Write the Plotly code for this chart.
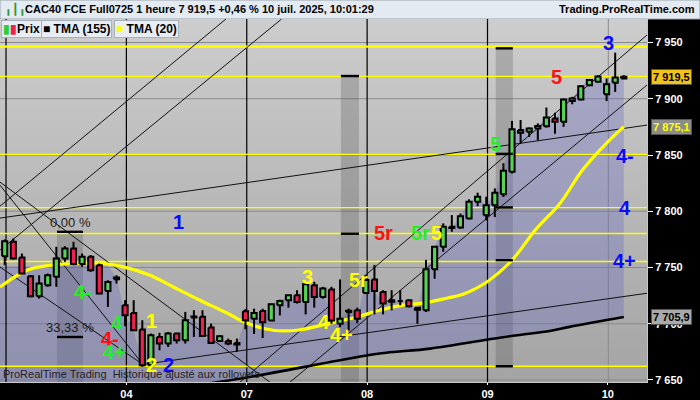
import plotly.graph_objects as go

#%% data (hourly bars, CAC40 future)
DAYS = ['03', '04', '07', '08', '09', '10']
BARS_PER_DAY = [14, 14, 14, 14, 14, 3]

OPEN = [7760.1, 7772.8, 7758.9, 7742.2, 7724.5, 7734.3, 7741.7, 7758.0, 7766.9, 7753.0,
        7759.5, 7752.0, 7729.2, 7739.6, 7716.5, 7709.6, 7694.8, 7663.1, 7688.3, 7682.4,
        7691.3, 7685.3, 7705.5, 7706.1, 7696.6, 7684.7, 7684.7, 7682.9, 7711.0, 7704.4,
        7711.3, 7702.9, 7716.4, 7720.8, 7725.3, 7719.3, 7734.3, 7723.8, 7730.4, 7699.9,
        7710.4, 7711.9, 7727.4, 7739.4, 7728.3, 7720.8, 7720.2, 7720.8, 7714.3, 7711.9,
        7748.4, 7768.5, 7786.2, 7785.5, 7793.5, 7808.4, 7796.4, 7805.3, 7815.2, 7835.0,
        7872.2, 7870.6, 7873.6, 7875.6, 7882.4, 7879.5, 7898.1, 7899.3, 7912.1, 7915.1,
        7904.0, 7914.2, 7918.0]
HIGH = [7774.9, 7775.8, 7762.4, 7743.1, 7743.1, 7744.6, 7768.4, 7769.0, 7772.8, 7762.4,
        7761.0, 7753.5, 7738.7, 7743.1, 7720.9, 7720.9, 7703.1, 7691.3, 7691.9, 7692.7,
        7691.9, 7710.5, 7712.0, 7712.0, 7700.1, 7689.8, 7686.8, 7686.8, 7713.0, 7713.4,
        7713.4, 7717.9, 7721.4, 7725.5, 7729.8, 7737.3, 7737.3, 7732.8, 7732.8, 7739.4,
        7713.4, 7714.3, 7743.3, 7752.3, 7729.8, 7729.8, 7729.8, 7721.5, 7714.5, 7756.8,
        7769.0, 7789.2, 7796.6, 7798.0, 7810.6, 7816.5, 7812.9, 7820.3, 7842.6, 7880.3,
        7881.1, 7874.5, 7878.1, 7892.2, 7887.5, 7900.2, 7901.7, 7912.1, 7917.2, 7920.8,
        7918.0, 7941.0, 7921.0]
LOW = [7752.0, 7757.1, 7744.0, 7723.5, 7722.4, 7732.8, 7732.8, 7755.0, 7752.0, 7750.6,
       7746.1, 7726.2, 7715.0, 7735.7, 7697.8, 7693.5, 7661.6, 7661.6, 7676.4, 7679.4,
       7682.4, 7682.4, 7688.3, 7688.3, 7682.4, 7683.8, 7680.9, 7675.0, 7695.0, 7690.9,
       7687.3, 7702.5, 7707.4, 7714.3, 7717.9, 7708.3, 7714.3, 7722.3, 7699.9, 7696.9,
       7693.9, 7700.5, 7726.8, 7708.3, 7708.3, 7711.9, 7716.4, 7714.5, 7699.9, 7710.4,
       7740.0, 7764.0, 7781.8, 7784.5, 7792.8, 7804.5, 7791.9, 7794.8, 7812.7, 7833.5,
       7860.2, 7866.1, 7863.1, 7874.4, 7869.0, 7875.0, 7895.1, 7898.7, 7911.2, 7914.6,
       7898.0, 7906.0, 7917.5]
CLOSE = [7773.4, 7758.0, 7744.6, 7724.5, 7735.7, 7743.1, 7758.0, 7766.9, 7753.0, 7759.5,
         7747.6, 7726.8, 7737.2, 7741.0, 7707.6, 7694.2, 7663.1, 7689.8, 7682.4, 7691.3,
         7685.3, 7703.1, 7706.5, 7689.2, 7682.9, 7688.9, 7682.4, 7681.5, 7703.0, 7709.5,
         7701.4, 7717.3, 7720.2, 7725.3, 7719.3, 7735.2, 7723.8, 7731.3, 7702.9, 7704.4,
         7711.5, 7704.4, 7738.8, 7729.2, 7717.9, 7719.5, 7720.5, 7715.5, 7712.5, 7748.4,
         7768.5, 7786.2, 7785.0, 7795.6, 7808.5, 7812.9, 7805.4, 7816.4, 7836.0, 7873.0,
         7869.8, 7873.6, 7875.7, 7883.3, 7879.5, 7899.3, 7900.2, 7911.2, 7916.6, 7919.8,
         7913.0, 7919.0, 7919.5]

# TMA (20) and TMA (155) (x = bar index)
TMA20_X = [-0.55, 2.6, 5.3, 9.1, 11.1, 13.8, 16.9, 19.6, 22.7, 25.9, 28.2, 31.2, 34.0, 37.8,
           41.0, 43.6, 46.3, 48.6, 51.4, 53.3, 56.2, 59.0, 61.7, 64.6, 67.2, 70.0, 72.0]
TMA20_Y = [7732.7, 7747.6, 7752.0, 7753.8, 7753.8, 7750.5, 7743.1, 7732.7, 7720.9, 7709.3,
           7700.4, 7694.2, 7694.2, 7700.4, 7706.0, 7712.0, 7716.5, 7718.3, 7722.7, 7726.2,
           7737.8, 7756.5, 7783.2, 7807.2, 7836.6, 7860.6, 7875.1]
TMA155_X = [21.6, 28.5, 39.0, 43.6, 49.5, 56.2, 59.6, 63.4, 65.7, 72.0]
TMA155_Y = [7644.4, 7652.7, 7667.5, 7673.5, 7677.9, 7685.9, 7689.8, 7693.6, 7697.2, 7705.9]

# upper edge of the coloured zone before it follows the closes
ZONE_EARLY_X = [-0.55, 12.0, 13.0]
ZONE_EARLY_Y = [7751.0, 7751.0, 7741.0]
ZONE_FROM_BAR = 14

# horizontal yellow levels
LEVELS = [7946.3, 7919.9, 7850.5, 7803.2, 7780.2, 7755.3, 7662.2]
LEVEL_WIDTHS = [2.4, 1.3, 1.3, 1.3, 1.3, 1.3, 1.3]

# hand drawn trend lines (x0, y0, x1, y1) in bar index / price
TRENDLINES = [
    (-0.55, 7804.5, 25.73, 7970.9),
    (-0.55, 7765.4, 32.2, 7970.9),
    (-0.55, 7793.9, 74.7, 7876.6),
    (16.08, 7663.8, 74.7, 7727.1),
    (-0.55, 7825.9, 30.85, 7648.0),
    (-0.55, 7750.4, 16.08, 7663.8),
    (-0.55, 7823.2, 16.08, 7663.8),
    (27.36, 7648.0, 74.7, 7956.7),
    (33.17, 7648.0, 74.7, 7912.2),
]

# fibonacci time boxes: (x0, x1, top, bottom, marker levels)
BOXES = [
    (6.08, 9.1, 7781.7, 7600.0, [7781.7, 7688.2]),
    (39.1, 41.2, 7920.2, 7600.0, [7920.2, 7780.0]),
    (57.1, 59.1, 7944.8, 7661.3, [7944.8, 7851.0, 7803.4, 7756.5, 7662.2]),
]

BLUE, GREEN, RED, YELLOW = '#0a0aff', '#22f022', '#ff1010', '#ffff00'
WAVE_LABELS = [
    ('1', BLUE, 20.2, 7790.6), ('4-', GREEN, 9.1, 7728.3), ('4', GREEN, 13.0, 7700.7),
    ('1', YELLOW, 17.1, 7702.5), ('4-', RED, 12.2, 7686.8), ('4+', GREEN, 12.8, 7674.9),
    ('2', YELLOW, 17.1, 7663.0), ('2', BLUE, 19.0, 7663.0), ('3', YELLOW, 35.2, 7741.6),
    ('5r', YELLOW, 41.1, 7738.7), ('4', YELLOW, 37.1, 7701.6), ('4+', YELLOW, 39.2, 7689.8),
    ('5r', RED, 44.1, 7780.8), ('5r', GREEN, 48.3, 7780.8), ('5', YELLOW, 50.2, 7780.8),
    ('5', GREEN, 57.1, 7859.7), ('5', RED, 64.2, 7919.6), ('3', BLUE, 70.2, 7949.3),
    ('4-', BLUE, 72.1, 7849.0), ('4', BLUE, 72.1, 7802.5), ('4+', BLUE, 72.1, 7755.9),
]
PCT_LABELS = [('0,00 %', 7.6, 7789.7), ('33,33 %', 7.6, 7696.6)]

Y_TICKS = [7650, 7700, 7750, 7800, 7850, 7900, 7950]
X_RANGE = [-0.55, 74.7]
Y_RANGE = [7648.2, 7970.9]
BODY_HALF = 0.3

TITLE = 'CAC40 FCE Full0725 1 heure 7 919,5 +0,46 % 10 juil. 2025, 10:01:29'
FONT = 'Liberation Sans, Arial, sans-serif'

#%% helpers
def fr(v):
    return f'{v:,.1f}'.replace(',', ' ').replace('.', ',')

def segs(pairs):
    xs, ys = [], []
    for (a, b, c, d) in pairs:
        xs += [a, c, None]
        ys += [b, d, None]
    return xs, ys

bars = list(range(len(CLOSE)))
day_start = [sum(BARS_PER_DAY[:k]) for k in range(len(DAYS))]
x0, x1 = X_RANGE
y0, y1 = Y_RANGE

fig = go.Figure()

# background gradient of the chart area
fig.add_trace(go.Scatter(
    x=[x0, x1, x1, x0, x0], y=[y0, y0, y1, y1, y0], mode='none', fill='toself',
    fillgradient=dict(type='vertical', start=y0, stop=y1,
                      colorscale=[[0, '#a4a4a4'], [1, '#cdcdcd']]),
    hoverinfo='skip'))

# grid
gx, gy = segs([(x0, t, x1, t) for t in Y_TICKS] +
              [(day_start[-1] + 0.2, y0, day_start[-1] + 0.2, y1)])
fig.add_trace(go.Scatter(x=gx, y=gy, mode='lines', line=dict(color='#8a8a8a', width=1), hoverinfo='skip'))

# time boxes
for bx0, bx1, top, bot, marks in BOXES:
    fig.add_trace(go.Scatter(
        x=[bx0, bx1, bx1, bx0, bx0], y=[bot, bot, top, top, bot], mode='none', fill='toself',
        fillcolor='rgba(60,60,60,0.22)', hoverinfo='skip'))

# coloured zone between price and TMA (155)
zx = ZONE_EARLY_X + bars[ZONE_FROM_BAR:]
zy = ZONE_EARLY_Y + CLOSE[ZONE_FROM_BAR:]
zx += TMA155_X[::-1] + [TMA155_X[0], x0]
zy += TMA155_Y[::-1] + [y0 - 30, y0 - 30]
fig.add_trace(go.Scatter(x=zx, y=zy, mode='none', fill='toself',
                         fillcolor='rgba(100,100,195,0.32)', hoverinfo='skip'))

# day separators
vx, vy = segs([(d + 0.15, y0, d + 0.15, y1) for d in day_start[:-1]])
fig.add_trace(go.Scatter(x=vx, y=vy, mode='lines', line=dict(color='black', width=1.2), hoverinfo='skip'))

# yellow levels
for lv, w in zip(LEVELS, LEVEL_WIDTHS):
    fig.add_trace(go.Scatter(x=[x0, x1], y=[lv, lv], mode='lines',
                             line=dict(color=YELLOW, width=w), hoverinfo='skip'))

# trend lines
tx, ty = segs(TRENDLINES)
fig.add_trace(go.Scatter(x=tx, y=ty, mode='lines', line=dict(color='#111111', width=1), hoverinfo='skip'))

# moving averages
fig.add_trace(go.Scatter(x=TMA155_X, y=TMA155_Y, mode='lines', line=dict(color='black', width=2.6, shape='spline'),
                         name='TMA (155)'))
fig.add_trace(go.Scatter(x=TMA20_X, y=TMA20_Y, mode='lines', line=dict(color=YELLOW, width=3.2, shape='spline'),
                         name='TMA (20)'))

# candles: wicks first, then bodies (kept in the scatter layer so they sit on top)
wx, wy = segs([(i, l, i, h) for i, l, h in zip(bars, LOW, HIGH)])
fig.add_trace(go.Scatter(x=wx, y=wy, mode='lines', line=dict(color='black', width=2), hoverinfo='skip'))
for up, col in [(True, '#55d455'), (False, '#ee2150')]:
    bxs, bys = [], []
    for i, o, c in zip(bars, OPEN, CLOSE):
        if (c >= o) != up:
            continue
        bxs += [i - BODY_HALF, i + BODY_HALF, i + BODY_HALF, i - BODY_HALF, i - BODY_HALF, None]
        bys += [o, o, c, c, o, None]
    fig.add_trace(go.Scatter(x=bxs, y=bys, mode='lines', fill='toself', fillcolor=col,
                             line=dict(color='black', width=2), name='Prix', hoverinfo='skip'))

# box markers
mx, my = segs([(bx0, m, bx1, m) for bx0, bx1, top, bot, marks in BOXES for m in marks])
fig.add_trace(go.Scatter(x=mx, y=my, mode='lines', line=dict(color='black', width=2.4), hoverinfo='skip'))

#%% texts
ann = []
for txt, col, xi, yp in WAVE_LABELS:
    ann.append(dict(x=xi, y=yp, text=txt, showarrow=False,
                    font=dict(family=FONT, size=20, color=col, weight='bold')))
for txt, xi, yp in PCT_LABELS:
    ann.append(dict(x=xi, y=yp, text=txt, showarrow=False,
                    font=dict(family=FONT, size=13, color='#1a1a1a')))

ann.append(dict(xref='paper', yref='paper', x=0.002, y=0.0, xanchor='left', yanchor='bottom',
                text='ProRealTime Trading  Historique ajusté aux rollovers', showarrow=False,
                font=dict(family=FONT, size=11, color='#222222')))

# price boxes on the axis
for val, bg, fg in [(CLOSE[-1], '#f2c21b', 'black'), (TMA20_Y[-1], '#8c8c8c', YELLOW),
                    (TMA155_Y[-1], '#a9a9a9', 'black')]:
    ann.append(dict(xref='paper', yref='y', x=1, y=val, xanchor='left', yanchor='middle', xshift=4,
                    text=fr(val), showarrow=False, bgcolor=bg, bordercolor='#555555', borderwidth=1,
                    borderpad=1, font=dict(family=FONT, size=11, color=fg, weight='bold')))

# title bar
ann.append(dict(xref='paper', yref='paper', x=23 / 647, y=1 + 10 / 363, xanchor='left', yanchor='middle',
                text=TITLE, showarrow=False, font=dict(family=FONT, size=11, color='black', weight='bold')))
ann.append(dict(xref='paper', yref='paper', x=697 / 647, y=1 + 10 / 363, xanchor='right', yanchor='middle',
                text='Trading.ProRealTime.com', showarrow=False,
                font=dict(family=FONT, size=11, color='black', weight='bold')))
ann.append(dict(xref='paper', yref='paper', x=3 / 647, y=1 + 10 / 363, xanchor='left', yanchor='middle',
                text='╻┃╻', showarrow=False, font=dict(family=FONT, size=11, color='#2a9a2a')))

# legend boxes
legend = [('<span style="color:#33cc33">▮</span><span style="color:#ee2150">▮</span>Prix', 1),
          ('<span style="color:black">■</span> TMA (155)', 41),
          ('<span style="color:#ffff00">■</span> TMA (20)', 114)]
for txt, px in legend:
    ann.append(dict(xref='paper', yref='paper', x=px / 647, y=1 - 10 / 363, xanchor='left', yanchor='middle',
                    text=txt, showarrow=False, bgcolor='#e7edf3', bordercolor='#a8b0b8', borderwidth=1,
                    borderpad=1, font=dict(family=FONT, size=12, color='black', weight='bold')))

shapes = [dict(type='rect', xref='paper', yref='paper', x0=0, x1=700 / 647, y0=1, y1=1 + 19 / 363,
               fillcolor='#e3eaf1', line=dict(color='#9aa3ab', width=1), layer='below')]

fig.update_layout(
    width=700, height=400,
    margin=dict(l=0, r=53, t=19, b=18, autoexpand=False),
    paper_bgcolor='black', plot_bgcolor='#b8b8b8',
    showlegend=False, separators=', ',
    annotations=ann, shapes=shapes,
    xaxis=dict(range=X_RANGE, showgrid=False, zeroline=False, fixedrange=True,
               tickvals=[d + 0.15 for d in day_start[1:]], ticktext=DAYS[1:],
               ticks='outside', ticklen=2, tickcolor='white',
               tickfont=dict(family=FONT, size=11, color='white', weight='bold'),
               showline=True, linecolor='#c8c8c8'),
    yaxis=dict(range=Y_RANGE, side='right', showgrid=False, zeroline=False,
               tickvals=Y_TICKS, tickformat=',', ticks='outside', ticklen=5, tickcolor='white',
               tickfont=dict(family=FONT, size=11, color='white', weight='bold'),
               showline=True, linecolor='#c8c8c8'),
)

fig.write_html('out.html', config={'displayModeBar': False},
               post_script="document.body.style.margin='0';document.body.style.overflow='hidden';")
